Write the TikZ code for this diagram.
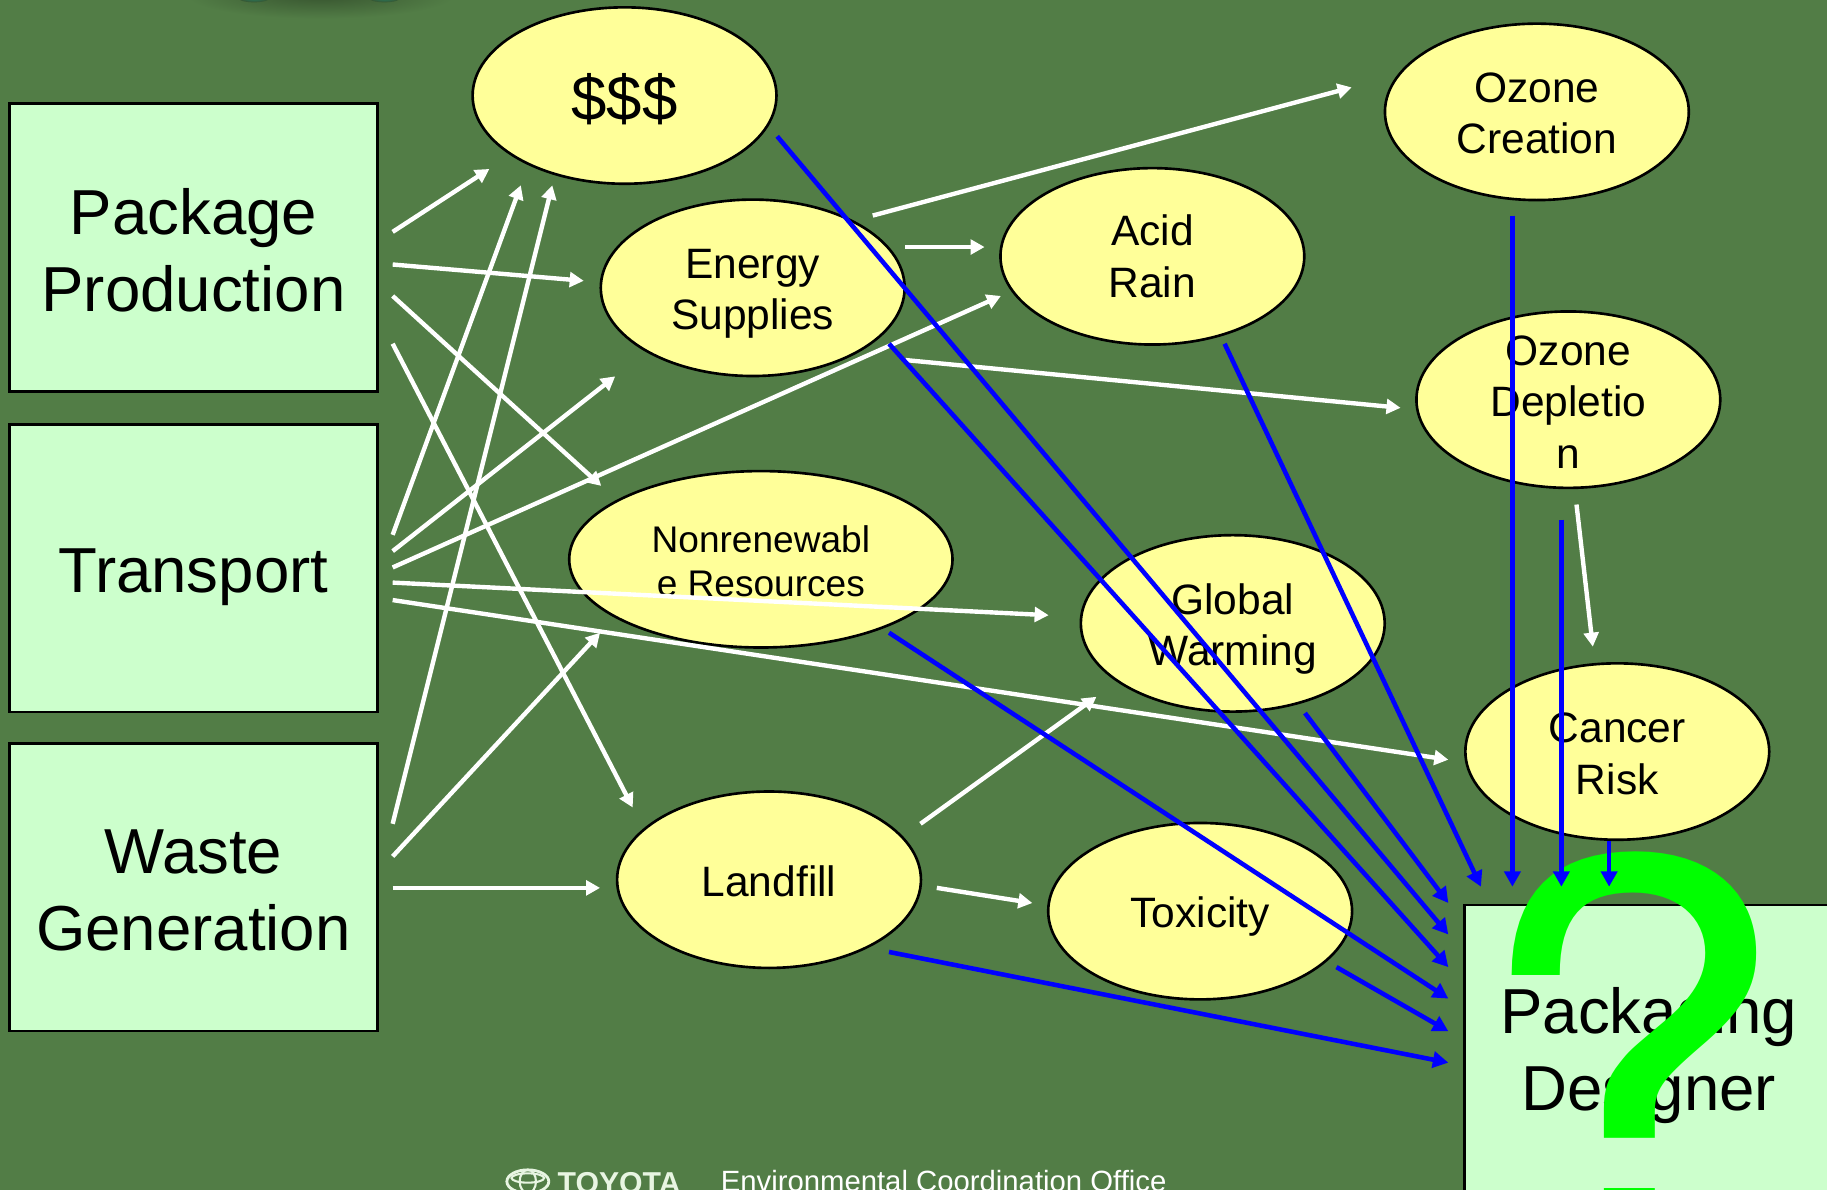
\documentclass[tikz,border=0pt]{standalone}
\usepackage{graphicx}
\usepackage{fontspec}
\setmainfont{Liberation Sans}
\newfontfamily\queryfont{TeX Gyre Heros}
\usetikzlibrary{arrows.meta}
\usetikzlibrary{shapes.geometric}
\definecolor{slidegreen}{RGB}{82,125,70}
\definecolor{boxgreen}{RGB}{204,255,204}
\definecolor{bubbleyellow}{RGB}{255,255,153}
\definecolor{logopale}{RGB}{232,245,226}
\tikzset{
    stagebox/.style={draw=black,line width=0.75pt,fill=boxgreen,rectangle,inner sep=0pt,
        minimum width=3.682cm,minimum height=2.878cm},
    stagetext/.style={inner sep=0pt,align=center,font=\fontsize{18.1}{22}\selectfont},
    bubble/.style={draw=black,line width=0.75pt,fill=bubbleyellow,ellipse,inner sep=0pt,
        minimum width=3.04cm,minimum height=1.765cm},
    bubbletext/.style={inner sep=0pt,align=center,font=\fontsize{12.1}{14.6}\selectfont},
    flowwhite/.style={-{Triangle[length=4pt,width=4.2pt]},white,line width=1.25pt},
    flowblue/.style={-{Triangle[length=4.4pt,width=4.6pt]},blue,line width=1.3pt}
}
\begin{document}
\begin{tikzpicture}[x=0.011652cm,y=-0.011652cm]
    \path[clip,use as bounding box] (0,0) rectangle (1568,1021);
    \fill[slidegreen] (0,0) rectangle (1568,1021);
    % smudge left at the top edge
    \shade[inner color=slidegreen!68!black,outer color=slidegreen] (275,-4) ellipse (115 and 20);
    \shade[inner color=teal!55!slidegreen,outer color=slidegreen!68!black] (218,-2) ellipse (14 and 4);
    \shade[inner color=teal!55!slidegreen,outer color=slidegreen!68!black] (330,-2) ellipse (14 and 4);

    \node[stagebox] (package) at (166,212.5) {};
    \node[stagebox] (transport) at (166,487.5) {};
    \node[stagebox] (waste) at (166,761.5) {};
    \node[stagebox] (designer) at (1415,900) {};
    \node[stagetext] (packageText) at (166,215) {Package\\Production};
    \node[stagetext] (transportText) at (166,495) {Transport};
    \node[stagetext] (wasteText) at (166,764) {Waste\\Generation};
    \node[stagetext] (designerText) at (1415,906) {Packaging\\Designer};

    \node[bubble] (money) at (536,82) {};
    \node[bubble] (energy) at (646,247) {};
    \node[bubble,minimum width=3.835cm] (nonrenew) at (653,480) {};
    \node[bubble] (landfill) at (660,755) {};
    \node[bubble] (creation) at (1319,96) {};
    \node[bubble] (acid) at (989,220) {};
    \node[bubble] (depletion) at (1346,343) {};
    \node[bubble] (warming) at (1058,535) {};
    \node[bubble] (toxicity) at (1030,782) {};
    \node[bubble] (cancer) at (1388,645) {};

    \node[bubbletext,font=\fontsize{18.1}{22}\selectfont] (moneyText) at (536,85) {\$\$\$};
    \node[bubbletext] (energyText) at (646,252) {Energy\\Supplies};
    \node[bubbletext,font=\fontsize{10.55}{12.5}\selectfont] (nonrenewText) at (653,482) {Nonrenewabl\\e Resources};
    \node[bubbletext] (landfillText) at (660,756) {Landfill};
    \node[bubbletext] (creationText) at (1319,97) {Ozone\\Creation};
    \node[bubbletext] (acidText) at (989,220) {Acid\\Rain};
    \node[bubbletext] (depletionText) at (1346,345) {Ozone\\Depletio\\n};
    \node[bubbletext] (warmingText) at (1058,540) {Global\\Warming};
    \node[bubbletext] (toxicityText) at (1030,787) {Toxicity};
    \node[bubbletext] (cancerText) at (1388,647) {Cancer\\Risk};

    % ends of the white arrows
    \coordinate (pkgA) at (337,199);   \coordinate (moneyA) at (420,145);
    \coordinate (pkgB) at (337,227);   \coordinate (energyA) at (501,241);
    \coordinate (pkgC) at (337,254);   \coordinate (nonrenewA) at (516,417);
    \coordinate (pkgD) at (337,295);   \coordinate (landfillA) at (543,693);
    \coordinate (traA) at (337,459);   \coordinate (moneyB) at (447,159);
    \coordinate (traB) at (337,473);   \coordinate (energyB) at (528,323);
    \coordinate (traC) at (337,487);   \coordinate (acidA) at (859,254);
    \coordinate (traD) at (337,500);   \coordinate (warmingA) at (900,528);
    \coordinate (traE) at (337,515);   \coordinate (cancerA) at (1243,652);
    \coordinate (wasA) at (337,707);   \coordinate (moneyC) at (474,159);
    \coordinate (wasB) at (337,735);   \coordinate (nonrenewB) at (515,543);
    \coordinate (wasC) at (337,762);   \coordinate (landfillB) at (515,762);
    \coordinate (eneA) at (749,185);   \coordinate (creationA) at (1160,75);
    \coordinate (eneB) at (777,212);   \coordinate (acidB) at (845,212);
    \coordinate (eneC) at (777,309);   \coordinate (depletionA) at (1202,350);
    \coordinate (depB) at (1353,433);  \coordinate (cancerB) at (1367,555);
    \coordinate (lanA) at (790,707);   \coordinate (warmingB) at (941,598);
    \coordinate (lanB) at (804,762);   \coordinate (toxicityA) at (886,775);

    \draw[flowwhite] (pkgA)--(moneyA);
    \draw[flowwhite] (pkgB)--(energyA);
    \draw[flowwhite] (pkgC)--(nonrenewA);
    \draw[flowwhite] (pkgD)--(landfillA);
    \draw[flowwhite] (traA)--(moneyB);
    \draw[flowwhite] (traB)--(energyB);
    \draw[flowwhite] (traC)--(acidA);
    \draw[flowwhite] (traD)--(warmingA);
    \draw[flowwhite] (traE)--(cancerA);
    \draw[flowwhite] (wasA)--(moneyC);
    \draw[flowwhite] (wasB)--(nonrenewB);
    \draw[flowwhite] (wasC)--(landfillB);
    \draw[flowwhite] (eneA)--(creationA);
    \draw[flowwhite] (eneB)--(acidB);
    \draw[flowwhite] (eneC)--(depletionA);
    \draw[flowwhite] (depB)--(cancerB);
    \draw[flowwhite] (lanA)--(warmingB);
    \draw[flowwhite] (lanB)--(toxicityA);

    % the big question mark lies over the box, under the blue arrows
    \node[inner sep=0pt,anchor=base,text=green,font=\fontsize{152}{152}\queryfont\selectfont] (query) at (1399,1067) {\scalebox{1.06}[0.99]{?}};

    % ends of the blue arrows
    \coordinate (monOut) at (667,117);    \coordinate (desA) at (1243,802);
    \coordinate (eneOut) at (763,295);    \coordinate (desB) at (1243,830);
    \coordinate (nonOut) at (763,543);    \coordinate (desC) at (1243,857);
    \coordinate (warOut) at (1120,612);   \coordinate (desD) at (1243,775);
    \coordinate (toxOut) at (1147,830);   \coordinate (desE) at (1243,885);
    \coordinate (lanOut) at (763,817);    \coordinate (desF) at (1243,912);
    \coordinate (acidOut) at (1051,295);  \coordinate (desG) at (1271,761);
    \coordinate (creOut) at (1298,185);   \coordinate (desH) at (1298,761);
    \coordinate (depOut) at (1340,446);   \coordinate (desI) at (1340,761);
    \coordinate (canOut) at (1381,722);   \coordinate (desJ) at (1381,761);

    \draw[flowblue] (monOut)--(desA);
    \draw[flowblue] (eneOut)--(desB);
    \draw[flowblue] (nonOut)--(desC);
    \draw[flowblue] (warOut)--(desD);
    \draw[flowblue] (toxOut)--(desE);
    \draw[flowblue] (lanOut)--(desF);
    \draw[flowblue] (acidOut)--(desG);
    \draw[flowblue] (creOut)--(desH);
    \draw[flowblue] (depOut)--(desI);
    \draw[flowblue] (canOut)--(desJ);

    % footer
    \draw[logopale,line width=0.8pt] (453,1014) ellipse (18 and 10);
    \draw[logopale,line width=0.6pt] (453,1014) ellipse (7 and 10);
    \draw[logopale,line width=0.6pt] (453,1011) ellipse (14 and 4);
    \node[inner sep=0pt,anchor=base west,text=logopale,font=\fontsize{8.6}{10}\bfseries\selectfont] (toyota) at (478,1024) {TOYOTA};
    \node[inner sep=0pt,anchor=base west,text=white,font=\fontsize{8.34}{10}\selectfont] (office) at (618,1023) {Environmental Coordination Office};
\end{tikzpicture}
\end{document}
